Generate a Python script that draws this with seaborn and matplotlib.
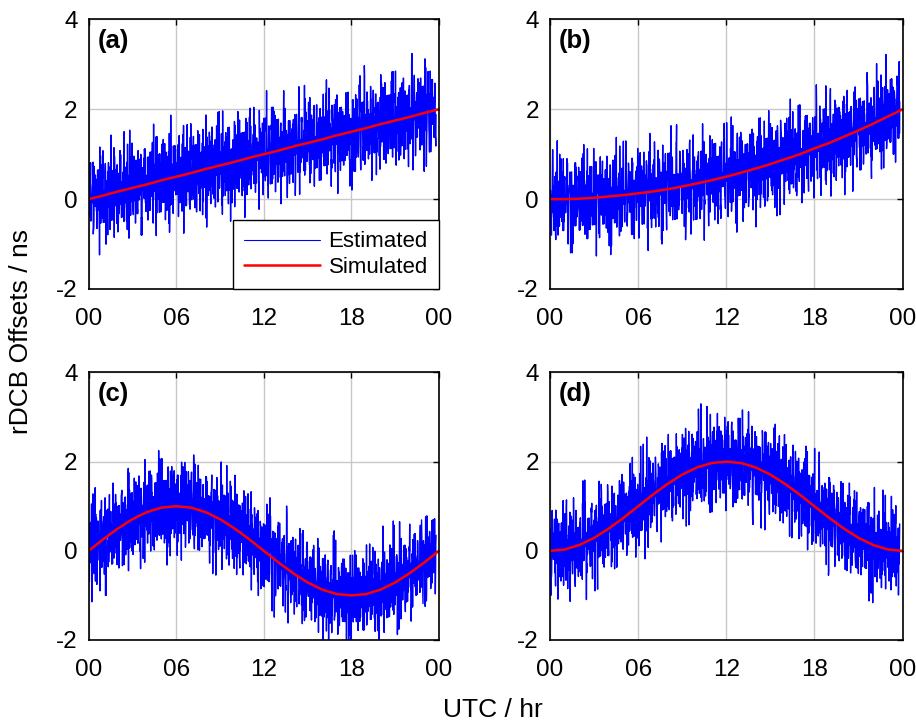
import numpy as np
import pandas as pd
import matplotlib
matplotlib.use("Agg")
import matplotlib.pyplot as plt
import seaborn as sns

# --- data ---
hours = [0, 1, 2, 3, 4, 5, 6, 7, 8, 9, 10, 11, 12, 13, 14, 15, 16, 17, 18, 19, 20, 21, 22, 23, 24]

# simulated rDCB offsets (ns), read hourly
sim_a = [0.00, 0.08, 0.17, 0.25, 0.33, 0.42, 0.50, 0.58, 0.67, 0.75, 0.83, 0.92, 1.00,
         1.08, 1.17, 1.25, 1.33, 1.42, 1.50, 1.58, 1.67, 1.75, 1.83, 1.92, 2.00]
sim_b = [0.00, 0.00, 0.01, 0.03, 0.06, 0.09, 0.13, 0.17, 0.22, 0.28, 0.35, 0.42, 0.50,
         0.59, 0.68, 0.78, 0.89, 1.00, 1.13, 1.25, 1.39, 1.53, 1.68, 1.84, 2.00]
sim_c = [0.00, 0.26, 0.50, 0.71, 0.87, 0.97, 1.00, 0.97, 0.87, 0.71, 0.50, 0.26, 0.00,
         -0.26, -0.50, -0.71, -0.87, -0.97, -1.00, -0.97, -0.87, -0.71, -0.50, -0.26, 0.00]
sim_d = [0.00, 0.03, 0.13, 0.29, 0.50, 0.74, 1.00, 1.26, 1.50, 1.71, 1.87, 1.97, 2.00,
         1.97, 1.87, 1.71, 1.50, 1.26, 1.00, 0.74, 0.50, 0.29, 0.13, 0.03, 0.00]

# estimated minus simulated (ns)
resid = [
    0.2, -0.4, 0.8, -0.1, 0.3, -0.7, 0.1, 0.5, -0.3, -0.6, 0.4, 0.0, -0.2, 0.7, -0.5, 0.3, -0.1, 0.6, -1.1, 0.1, 0.5, -0.3, -0.1, 1.3, -0.6, 0.2, -0.4, 0.3, 0.1, -0.7,
    0.4, -0.2, 0.1, 0.8, -0.6, -0.1, 0.3, -0.4, 0.5, -0.1, -0.9, 0.3, 0.0, 0.5, -0.3, 1.0, -0.5, 0.1, -0.3, 0.6, 0.1, -0.5, 0.4, -0.2, 0.7, -0.8, 0.2, -0.1, 0.5, -0.4,
    -0.1, 0.6, -0.6, 0.3, 0.1, -0.3, 0.9, -0.5, 0.2, 0.4, -1.2, 0.1, -0.1, 0.6, -0.3, 0.0, 0.8, -0.5, 0.3, -0.2, 0.5, -0.7, 0.1, 0.3, -0.4, 1.4, -0.1, -0.5, 0.2, 0.4,
    -0.3, 0.1, 0.6, -0.9, 0.3, -0.1, 0.4, 0.7, -0.6, 0.2, -0.3, 0.0, 1.1, -0.4, 0.1, -0.8, 0.5, -0.2, 0.3, -0.6, 0.6, 0.1, -0.3, 0.9, -0.5, 0.1, -0.1, 0.4, -1.0, 0.3,
    0.5, -0.3, 0.0, 0.3, -0.6, 0.8, -0.1, -0.4, 0.5, 0.2, -0.7, 0.6, -0.2, 0.1, 1.2, -0.5, -0.1, 0.3, -0.9, 0.4, 0.1, -0.3, 0.7, -0.6, 0.2, 0.5, -0.3, -1.3, 0.3, 0.1,
    -0.1, 0.9, -0.4, 0.2, -0.6, 0.4, 0.0, -0.2, 0.6, -0.8, 0.3, 0.5, -0.3, -0.1, 0.8, -0.5, 0.1, 0.3, -0.7, 0.2, -0.3, 1.1, -0.6, 0.1, 0.4, -0.1, -0.6, 0.5, 0.3, -0.4,
    0.7, -0.2, 0.1, -0.6, 0.5, 0.1, -1.0, 0.3, -0.3, 0.6, 0.2, -0.5, 0.9, -0.1, -0.3, 0.4, -0.7, 0.3, 0.0, 0.6, -0.4, 0.1, 1.3, -0.6, -0.1, 0.3, -0.3, 0.6, -0.8, 0.2,
    -0.5, 0.3, 0.6, -0.1, -1.1, 0.4, 0.1, -0.3, 0.8, -0.6, 0.2, 0.5, -0.1, -0.6, 0.3, 0.7, -0.4, 0.1, -0.2, 1.0, -0.7, 0.3, -0.1, 0.6, 0.0, -0.5, 0.8, -0.3, 0.4, -0.9,
    0.1, 0.5, -0.3, 1.0, -0.6, 0.0, 0.3, -0.8, 0.6, -0.2, 0.3, -0.4, 0.7, 0.1, -0.6, 0.4, -0.1, 0.9, -1.3, 0.2, 0.6, -0.3, -0.1, 0.5, -0.7, 0.3, 0.1, -0.5, 0.8, -0.2,
    -0.6, 0.3, 0.2, -0.3, 0.7, -0.9, 0.4, -0.1, 0.6, -0.4, 0.1, 1.2, -0.6, 0.0, -0.2, 0.6, -0.8, 0.3, 0.5, -0.3, 0.1, -0.6, 0.9, -0.1, 0.3, -0.5, 0.2, 0.7, -1.1, 0.4,
    0.3, -0.7, 0.6, 0.1, -0.4, 0.8, -0.2, 0.3, -0.9, 0.5, 0.1, -0.3, 0.6, -0.6, 1.1, -0.1, -0.4, 0.2, 0.4, -0.7, 0.1, 0.6, -0.3, -0.8, 0.4, 0.0, 0.9, -0.5, 0.2, -0.1,
    0.5, -0.3, 0.7, -0.6, 0.1, 0.3, -1.2, 0.6, -0.1, 0.3, -0.5, 0.8, 0.0, -0.3, 0.4, -0.7, 0.6, 0.2, -0.4, 1.0, -0.6, 0.1, 0.3, -0.9, 0.5, -0.2, 0.7, -0.3, 0.1, -0.6,
]

panel_tags = ["(a)", "(b)", "(c)", "(d)"]
xtick_labels = ["00", "06", "12", "18", "00"]

# --- setup ---
sns.set_theme(style="white")
plt.rcParams["font.family"] = ["Liberation Sans", "DejaVu Sans"]
plt.rcParams["axes.unicode_minus"] = False
plt.rcParams["text.color"] = "black"
plt.rcParams["axes.labelcolor"] = "black"
plt.rcParams["xtick.color"] = "black"
plt.rcParams["ytick.color"] = "black"

fig = plt.figure(figsize=(9.16, 7.23), dpi=100)
positions = [
    [0.0968, 0.6003, 0.3824, 0.3728],
    [0.6004, 0.6003, 0.3850, 0.3728],
    [0.0968, 0.1148, 0.3824, 0.3700],
    [0.6004, 0.1148, 0.3850, 0.3700],
]

# 30 s style epochs: four re-orderings of the residual list interleaved
r = np.array(resid)
orders = [
    [r, np.roll(r, 90)[::-1], np.roll(r, 200), np.roll(r, 300)[::-1]],
    [r[::-1], np.roll(r, 45), np.roll(r, 150)[::-1], np.roll(r, 260)],
    [np.roll(r, 120), np.roll(r, 20)[::-1], np.roll(r, 230), np.roll(r, 330)[::-1]],
    [np.roll(r, 240)[::-1], np.roll(r, 70), np.roll(r, 175)[::-1], np.roll(r, 310)],
]
sims = [sim_a, sim_b, sim_c, sim_d]

for i, (pos, sim, parts, tag) in enumerate(zip(positions, sims, orders, panel_tags)):
    ax = fig.add_axes(pos)
    res = np.column_stack(parts).ravel()
    t_epoch = np.arange(len(res)) * 23.8 / (len(res) - 1)
    est = np.interp(t_epoch, hours, sim) + res
    df_est = pd.DataFrame({"t": t_epoch, "v": est})
    df_sim = pd.DataFrame({"t": hours, "v": sim})

    sns.lineplot(data=df_est, x="t", y="v", ax=ax, color="#0000ff", linewidth=1.0,
                 label="Estimated", estimator=None, sort=False)
    sns.lineplot(data=df_sim, x="t", y="v", ax=ax, color="#ff0000", linewidth=1.8,
                 label="Simulated", estimator=None, sort=False)

    ax.set_xlim(0, 24)
    ax.set_ylim(-2, 4)
    ax.set_xticks([0, 6, 12, 18, 24])
    ax.set_xticklabels(xtick_labels)
    ax.set_yticks([-2, 0, 2, 4])
    ax.set_yticklabels(["-2", "0", "2", "4"])
    ax.set_xlabel("")
    ax.set_ylabel("")
    ax.grid(True, color="#c8c8c8", linewidth=1.0)
    ax.set_axisbelow(True)
    for s in ax.spines.values():
        s.set_color("black")
        s.set_linewidth(1.2)
    ax.tick_params(direction="in", length=4, width=1, colors="black",
                   top=True, right=True, labelsize=17.5)
    ax.tick_params(axis="x", pad=13.5)
    ax.tick_params(axis="y", pad=8)

    ax.text(0.025, 0.92, tag, transform=ax.transAxes, fontsize=18.5,
            fontweight="bold", va="center", ha="left")

    if i == 0:
        leg = ax.legend(loc="lower right", fontsize=16, borderaxespad=0,
                        handlelength=3.4, handletextpad=0.4, labelspacing=0.2,
                        borderpad=0.5, fancybox=False, framealpha=1,
                        edgecolor="black")
        leg.get_frame().set_linewidth(1.0)
        leg.get_lines()[0].set_linewidth(0.8)
    else:
        ax.get_legend().remove()

fig.text(21 / 916, 1 - 332 / 723, "rDCB Offsets / ns", rotation=90,
         fontsize=19, ha="center", va="center")
fig.text(493 / 916, 1 - 717 / 723, "UTC / hr", fontsize=19, ha="center", va="baseline")

plt.savefig("out.png", dpi=100)
plt.close()
